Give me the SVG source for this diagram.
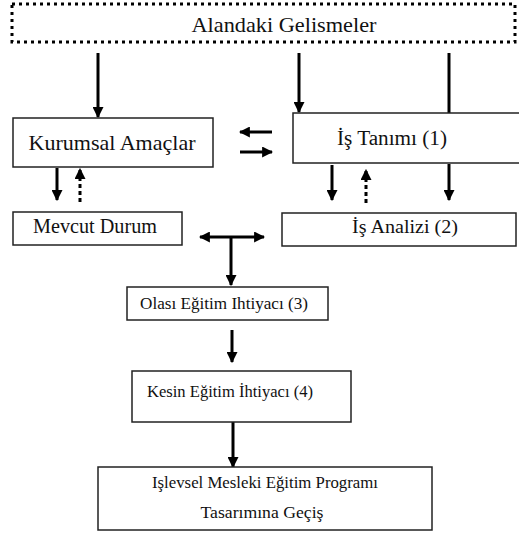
<svg xmlns="http://www.w3.org/2000/svg" width="519" height="535" viewBox="0 0 519 535">
<style>
.box{fill:#fff;stroke:#222;stroke-width:1.5}
.t{fill:#111;font-family:"Liberation Serif","Times New Roman",serif;text-anchor:middle}
.a{stroke:#000;stroke-width:3;fill:none}
.d{stroke:#000;stroke-width:3;fill:none;stroke-dasharray:4 3}
</style>
<defs>
<marker id="ah" viewBox="0 0 10 10" refX="9" refY="5" markerWidth="11" markerHeight="11" markerUnits="userSpaceOnUse" orient="auto">
<path d="M0,0 L10,5 L0,10 z" fill="#000"/>
</marker>
</defs>
<rect width="519" height="535" fill="#fff"/>
<g id="connectors">
<line class="a" x1="98" y1="53" x2="98" y2="117" marker-end="url(#ah)"/>
<line class="a" x1="299" y1="53" x2="299" y2="112" marker-end="url(#ah)"/>
<line class="a" x1="449" y1="53" x2="449" y2="113"/>
<line class="a" x1="272" y1="132" x2="240" y2="132" marker-end="url(#ah)"/>
<line class="a" x1="240" y1="152" x2="272" y2="152" marker-end="url(#ah)"/>
<line class="a" x1="57" y1="168" x2="57" y2="200" marker-end="url(#ah)"/>
<line class="d" x1="80" y1="202" x2="80" y2="169" marker-end="url(#ah)"/>
<line class="a" x1="332" y1="165" x2="332" y2="200" marker-end="url(#ah)"/>
<line class="d" x1="366" y1="203" x2="366" y2="170" marker-end="url(#ah)"/>
<line class="a" x1="449" y1="164" x2="449" y2="200" marker-end="url(#ah)"/>
<line class="a" x1="231" y1="237" x2="200" y2="237" marker-end="url(#ah)"/>
<line class="a" x1="231" y1="237" x2="264" y2="237" marker-end="url(#ah)"/>
<line class="a" x1="231" y1="237" x2="231" y2="285" marker-end="url(#ah)"/>
<line class="a" x1="232" y1="330" x2="232" y2="362" marker-end="url(#ah)"/>
<line class="a" x1="233" y1="422" x2="233" y2="467" marker-end="url(#ah)"/>
</g>
<g id="alandaki">
<rect x="12" y="4" width="503" height="38" fill="#fff" stroke="#000" stroke-width="3" stroke-dasharray="3 4"/>
<text class="t" x="284" y="32" font-size="22" textLength="185" lengthAdjust="spacingAndGlyphs">Alandaki Gelismeler</text>
</g>
<g id="kurumsal">
<rect class="box" x="13" y="118" width="200" height="49"/>
<text class="t" x="112" y="150" font-size="21" textLength="167" lengthAdjust="spacingAndGlyphs">Kurumsal Amaçlar</text>
</g>
<g id="is-tanimi">
<rect class="box" x="293" y="113" width="232" height="50"/>
<text class="t" x="392" y="145" font-size="20" textLength="110" lengthAdjust="spacingAndGlyphs">İş Tanımı (1)</text>
</g>
<g id="mevcut">
<rect class="box" x="13" y="212" width="169" height="33"/>
<text class="t" x="95" y="233" font-size="20" textLength="124" lengthAdjust="spacingAndGlyphs">Mevcut Durum</text>
</g>
<g id="is-analizi">
<rect class="box" x="282" y="213" width="234" height="33"/>
<text class="t" x="405" y="233" font-size="19" textLength="106" lengthAdjust="spacingAndGlyphs">İş Analizi (2)</text>
</g>
<g id="olasi">
<rect class="box" x="127" y="287" width="201" height="33"/>
<text class="t" x="224" y="309" font-size="17" textLength="168" lengthAdjust="spacingAndGlyphs">Olası Eğitim Ihtiyacı  (3)</text>
</g>
<g id="kesin">
<rect class="box" x="132" y="371" width="219" height="51"/>
<text class="t" x="230" y="397" font-size="17" textLength="166" lengthAdjust="spacingAndGlyphs">Kesin Eğitim İhtiyacı (4)</text>
</g>
<g id="islevsel">
<rect class="box" x="98" y="467" width="334" height="63"/>
<text class="t" x="265" y="488" font-size="17" textLength="226" lengthAdjust="spacingAndGlyphs">Işlevsel Mesleki Eğitim Programı</text>
<text class="t" x="262" y="518" font-size="17" textLength="123" lengthAdjust="spacingAndGlyphs">Tasarımına Geçiş</text>
</g>
</svg>
